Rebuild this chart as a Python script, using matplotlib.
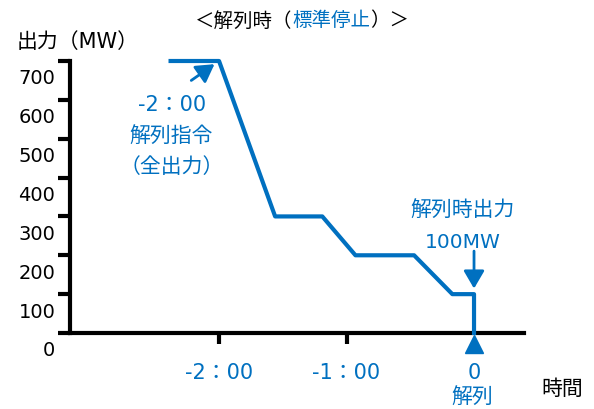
import matplotlib
matplotlib.use('Agg')
import matplotlib.pyplot as plt
from matplotlib.transforms import ScaledTranslation

plt.rcParams['font.family'] = ['DejaVu Sans', 'Noto Sans CJK JP']

BLUE = '#0070C0'

# 解列までの時間 (h) と出力 (MW)
hours = [-2.38, -2.0, -1.56, -1.19, -0.93, -0.47, -0.17, 0.0, 0.0]
output_mw = [700, 700, 300, 300, 200, 200, 100, 100, 0]
y_ticks = [0, 100, 200, 300, 400, 500, 600, 700]
x_ticks = [-2, -1, 0]
x_labels = ['-2：00', '-1：00', '0']

W, H = 594, 410
fig = plt.figure(figsize=(W / 100, H / 100), dpi=100)


def px(x, y):
    return x / W, 1 - y / H


ax = fig.add_axes([70 / W, 1 - 334 / H, (524 - 70) / W, (334 - 62) / H])
ax.set_xlim(-3.169, 0.392)
ax.set_ylim(0, 700)

for s in ['top', 'right']:
    ax.spines[s].set_visible(False)
for s in ['left', 'bottom']:
    ax.spines[s].set_linewidth(3)
    ax.spines[s].set_color('black')

ax.set_yticks(y_ticks)
ax.tick_params(axis='y', length=8.6, width=3, pad=2, labelsize=14, colors='black')
offset = ScaledTranslation(0, -0.15, fig.dpi_scale_trans)
for lab in ax.get_yticklabels():
    lab.set_transform(lab.get_transform() + offset)

ax.set_xticks(x_ticks)
ax.set_xticklabels(x_labels)
ax.tick_params(axis='x', length=8, width=3, pad=13, labelsize=15, labelcolor=BLUE)
ax.xaxis.get_major_ticks()[2].tick1line.set_visible(False)

# 出力の推移
ax.plot(hours, output_mw, color=BLUE, lw=3, clip_on=False, zorder=3)
# 解列時刻のマーカー
ax.plot([hours[-1]], [-28], marker='^', ms=13, color=BLUE, clip_on=False, zorder=4)

arrow = dict(arrowstyle='-|>,head_length=0.6,head_width=0.35', lw=2, color=BLUE,
             mutation_scale=18, shrinkA=0, shrinkB=4)
ax.annotate('', xy=(hours[1], output_mw[1]), xytext=(-20, -14), textcoords='offset points',
            arrowprops=arrow, annotation_clip=False)
ax.annotate('', xy=(hours[-2], output_mw[-2]), xytext=(0, 31), textcoords='offset points',
            arrowprops=arrow, annotation_clip=False)

# 注記
fig.text(*px(17, 42), '出力（MW）', fontsize=15, va='center', ha='left')
fig.text(*px(562, 389), '時間', fontsize=15, va='center', ha='center')
fig.text(*px(172, 105), '-2：00', fontsize=15, va='center', ha='center', color=BLUE)
fig.text(*px(171, 136), '解列指令', fontsize=15, va='center', ha='center', color=BLUE)
fig.text(*px(172, 167), '（全出力）', fontsize=15, va='center', ha='center', color=BLUE)
fig.text(*px(463, 210), '解列時出力', fontsize=15, va='center', ha='center', color=BLUE)
fig.text(*px(463, 243), '100MW', fontsize=14.5, va='center', ha='center', color=BLUE)
fig.text(*px(472, 397), '解列', fontsize=15, va='center', ha='center', color=BLUE)

# タイトル
t = fig.text(*px(195, 21), '＜解列時（', fontsize=14, va='center', ha='left')
t = ax.annotate('標準停止', xy=(1, 0), xycoords=t, va='bottom', ha='left',
                fontsize=14, color=BLUE, annotation_clip=False)
ax.annotate('）＞', xy=(1, 0), xycoords=t, va='bottom', ha='left',
            fontsize=14, annotation_clip=False)

fig.savefig('out.png', dpi=100)
